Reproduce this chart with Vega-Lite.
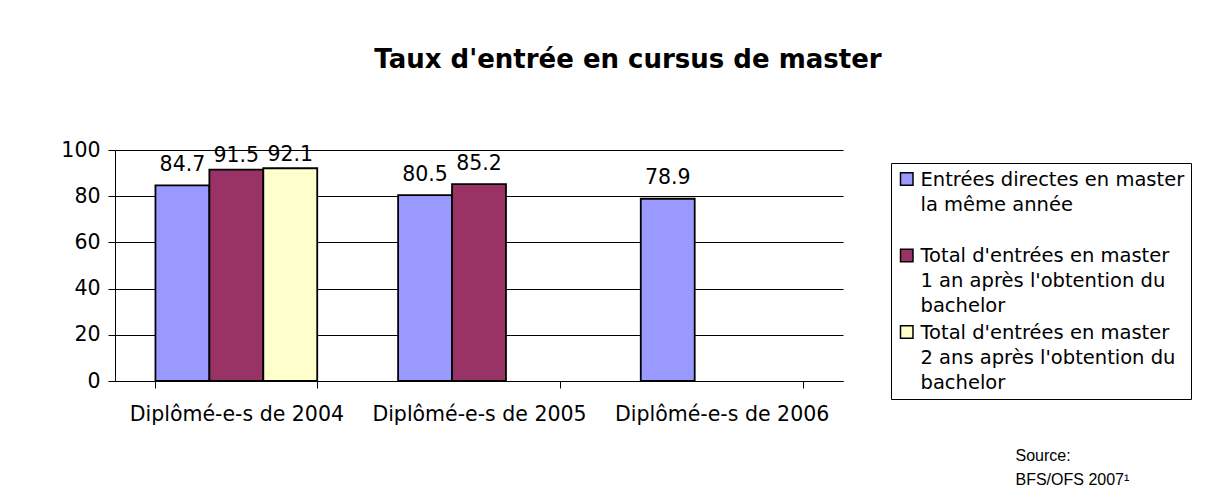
{
  "$schema": "https://vega.github.io/schema/vega-lite/v6.json",
  "width": 728,
  "height": 231,
  "autosize": {"type": "none"},
  "padding": {"left": 115, "top": 150, "right": 388, "bottom": 116},
  "background": "white",
  "title": {
    "text": "Taux d'entrée en cursus de master",
    "font": "DejaVu Sans",
    "fontSize": 26,
    "fontWeight": "bold",
    "color": "black",
    "anchor": "middle",
    "frame": "group",
    "dx": 149,
    "offset": 67
  },
  "data": {
    "values": [
      {"cat": "Diplômé-e-s de 2004", "series": "Entrées directes en master|la même année", "value": 84.7},
      {"cat": "Diplômé-e-s de 2004", "series": "Total d'entrées en master|1 an après l'obtention du|bachelor", "value": 91.5},
      {"cat": "Diplômé-e-s de 2004", "series": "Total d'entrées en master|2 ans après l'obtention du|bachelor", "value": 92.1},
      {"cat": "Diplômé-e-s de 2005", "series": "Entrées directes en master|la même année", "value": 80.5},
      {"cat": "Diplômé-e-s de 2005", "series": "Total d'entrées en master|1 an après l'obtention du|bachelor", "value": 85.2},
      {"cat": "Diplômé-e-s de 2006", "series": "Entrées directes en master|la même année", "value": 78.9}
    ]
  },
  "encoding": {
    "x": {
      "field": "cat",
      "type": "nominal",
      "sort": null,
      "scale": {"paddingInner": 0.3333, "paddingOuter": 0.1667},
      "axis": {
        "title": ["Source:", "BFS/OFS 2007¹"],
        "titleFont": "Liberation Sans",
        "titleFontSize": 16,
        "titleFontWeight": "normal",
        "titleColor": "black",
        "titleAlign": "left",
        "titleBaseline": "alphabetic",
        "titleX": 900,
        "titleY": 79,
        "titleLineHeight": 24,
        "labelAngle": 0,
        "labelFont": "DejaVu Sans",
        "labelFontSize": 20.5,
        "labelColor": "black",
        "labelPadding": 16,
        "labelLimit": 400,
        "tickSize": 7,
        "tickColor": "black",
        "domainColor": "black",
        "tickBand": "extent",
        "grid": false
      }
    },
    "xOffset": {
      "field": "series",
      "type": "nominal",
      "sort": null,
      "scale": {
        "domain": [
          "Entrées directes en master|la même année",
          "Total d'entrées en master|1 an après l'obtention du|bachelor",
          "Total d'entrées en master|2 ans après l'obtention du|bachelor"
        ],
        "paddingInner": 0,
        "paddingOuter": 0
      }
    },
    "y": {
      "field": "value",
      "type": "quantitative",
      "scale": {"domain": [0, 100], "nice": false},
      "axis": {
        "title": null,
        "values": [0, 20, 40, 60, 80, 100],
        "grid": true,
        "gridColor": "black",
        "gridWidth": 1,
        "gridOpacity": 1,
        "domainColor": "black",
        "tickColor": "black",
        "tickSize": 7,
        "labelFont": "DejaVu Sans",
        "labelFontSize": 20.5,
        "labelColor": "black",
        "labelPadding": 8
      }
    }
  },
  "layer": [
    {
      "mark": {"type": "bar", "stroke": "black", "strokeWidth": 1.8},
      "encoding": {
        "fill": {
          "field": "series",
          "type": "nominal",
          "sort": null,
          "scale": {
            "domain": [
              "Entrées directes en master|la même année",
              "Total d'entrées en master|1 an après l'obtention du|bachelor",
              "Total d'entrées en master|2 ans après l'obtention du|bachelor"
            ],
            "range": ["#9999FF", "#993366", "#FFFFCC"]
          },
          "legend": {
            "orient": "none",
            "direction": "vertical",
            "legendX": 776,
            "legendY": 13,
            "title": " ",
            "titleFontSize": 1,
            "titlePadding": 6,
            "labelExpr": "split(datum.label + (indexof(datum.label, 'directes') >= 0 ? '| ' : ''), '|')",
            "labelFont": "DejaVu Sans",
            "labelFontSize": 19.5,
            "labelColor": "black",
            "labelLimit": 500,
            "labelBaseline": "alphabetic",
            "labelOffset": 4,
            "symbolType": "M-1,-2.1H1V-0.1H-1Z",
            "symbolSize": 156,
            "symbolStrokeColor": "black",
            "symbolStrokeWidth": 1.5,
            "symbolOpacity": 1,
            "strokeColor": "black",
            "fillColor": "white",
            "padding": 6,
            "rowPadding": 5.5
          }
        }
      }
    },
    {
      "transform": [{"filter": "datum.value <= 90"}],
      "mark": {"type": "text", "baseline": "alphabetic", "align": "center", "dy": -14.3, "font": "DejaVu Sans", "fontSize": 20.5, "color": "black"},
      "encoding": {"text": {"field": "value", "type": "quantitative", "format": ".1f"}}
    },
    {
      "transform": [{"filter": "datum.value > 90"}],
      "mark": {"type": "text", "baseline": "alphabetic", "align": "center", "dy": -7.3, "font": "DejaVu Sans", "fontSize": 20.5, "color": "black"},
      "encoding": {"text": {"field": "value", "type": "quantitative", "format": ".1f"}}
    }
  ],
  "config": {
    "view": {"stroke": null},
    "style": {"guide-label": {"lineHeight": 25}}
  }
}
